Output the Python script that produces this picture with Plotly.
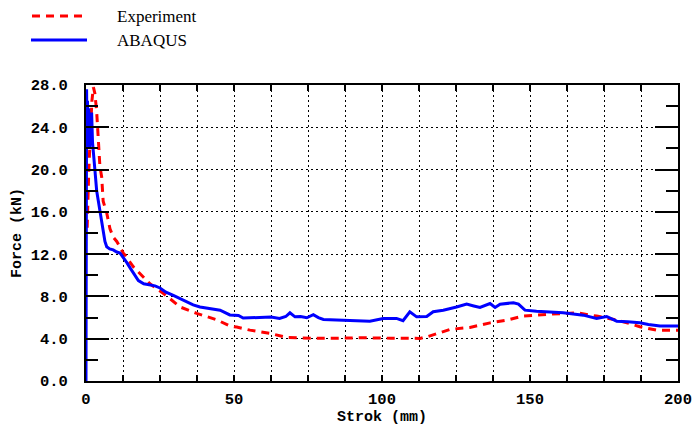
import plotly.graph_objects as go

# ---- data ----
abaqus_x = [0, 0.05, 0.2, 0.35, 0.5, 0.7, 0.9, 1.2, 1.5, 1.9, 2.2, 2.5, 3.0, 3.6, 4.2, 4.7, 5.3, 5.8,
            6.4, 7.0, 8.0, 9.2, 10.4, 11.5, 12.6, 13.8, 14.9, 16.3, 17.7, 19.5, 21.6, 23.3, 25.0, 27.0,
            29.5, 31.8, 34.0, 36.2, 38.5, 42.0, 45.3, 48.6, 51.5, 53.1, 56.0, 59.9, 62.5, 65.4, 67.5,
            68.9, 70.6, 72.5, 74.6, 76.8, 78.5, 80.2, 83.5, 86.9, 91.0, 95.9, 100.4, 104.9, 107.1,
            109.4, 111.7, 115.1, 117.3, 120.7, 125.2, 128.6, 131.0, 133.1, 136.5, 138.2, 139.9, 142.0,
            144.4, 146.1, 148.3, 152.2, 156.0, 161.2, 168.0, 172.5, 175.9, 179.3, 183.0, 187.1, 190.0,
            193.9, 197.0, 200.0]
abaqus_y = [0, 24, 27.6, 23, 26.5, 22.5, 25.8, 22, 24, 25.4, 22.6, 21.8, 20, 18, 17, 15.8, 14.8, 13.9,
            13.2, 12.7, 12.5, 12.4, 12.2, 12.1, 11.7, 11.2, 10.7, 10.1, 9.5, 9.2, 9.05, 9.0, 8.8, 8.4,
            8.1, 7.8, 7.5, 7.2, 7.0, 6.85, 6.7, 6.25, 6.2, 5.95, 6.0, 6.07, 6.05, 5.92, 6.1,
            6.45, 6.07, 6.1, 5.98, 6.27, 6.0, 5.82, 5.78, 5.7, 5.68, 5.66, 5.92, 5.92, 5.7,
            6.55, 6.07, 6.1, 6.55, 6.7, 7.0, 7.27, 7.1, 6.96, 7.33, 6.96, 7.27, 7.3,
            7.4, 7.27, 6.7, 6.6, 6.55, 6.45, 6.23, 5.92, 6.1, 5.66, 5.6, 5.51, 5.35,
            5.2, 5.2, 5.2]

exp_x = [0.4, 0.6, 0.9, 1.4, 2.0, 2.5, 3.0, 3.6, 4.2, 4.7, 5.3, 5.8, 7.0, 8.1, 9.2, 10.4, 12.6, 13.2,
         16.0, 17.1, 21.6, 26.1, 31.8, 37.4, 44.1, 48.6, 50.9, 55.4, 62.2, 67.8, 76.8, 85.0, 93.7,
         103.0, 112.8, 115.5, 118.5, 123.0, 129.7, 136.5, 142.2, 147.7, 155.6, 165.8, 172.5, 179.3,
         184.0, 187.1, 192.7, 200.0]
exp_y = [14.5, 17, 19.5, 23, 26.5, 27.8, 27.2, 25.5, 23, 20.3, 19.3, 17.0, 15.9, 14.4, 13.6, 13.2, 12.1, 11.9,
         10.8, 10.5, 9.2, 8.3, 7.0, 6.4, 5.8, 5.2, 5.1, 4.81, 4.5, 4.12, 4.03, 4.05, 4.09,
         4.05, 4.03, 4.2, 4.5, 4.88, 5.07, 5.5, 5.76, 6.14, 6.3, 6.45, 6.14, 5.76,
         5.4, 5.13, 4.81, 4.81]

x_tick_vals = [i * 12.5 for i in range(17)]
x_tick_text = ["0", "", "", "", "50", "", "", "", "100", "", "", "", "150", "", "", "", "200"]

RED = "#ff0000"
BLUE = "#0000ff"
MONO = "Liberation Mono, Courier New, monospace"
SERIF = "Liberation Serif, Times New Roman, serif"

fig = go.Figure()
fig.add_trace(go.Scatter(x=exp_x, y=exp_y, mode="lines", name="Experiment",
                         line=dict(color=RED, width=3, dash="8px,6px")))
fig.add_trace(go.Scatter(x=abaqus_x, y=abaqus_y, mode="lines", name="ABAQUS",
                         line=dict(color=BLUE, width=3)))

W, H = 695, 426
ml, mr, mt, mb = 86, 17, 85, 45
pw, ph = W - ml - mr, H - mt - mb

def px_to_paper(px, py):
    return (px - ml) / pw, (H - mb - py) / ph

shapes = []
annotations = []
# legend drawn manually (long line samples)
for (x0, x1, yy, col, dash, label) in [(32, 82, 16, RED, "8px,6px", "Experiment"),
                                       (31, 87, 40, BLUE, "solid", "ABAQUS")]:
    a0, b0 = px_to_paper(x0, yy)
    a1, _ = px_to_paper(x1, yy)
    shapes.append(dict(type="line", xref="paper", yref="paper", x0=a0, x1=a1, y0=b0, y1=b0,
                       line=dict(color=col, width=3, dash=dash)))
    tx, _ = px_to_paper(115, yy)
    annotations.append(dict(xref="paper", yref="paper", x=tx, y=b0, text=label, showarrow=False,
                            xanchor="left", yanchor="middle",
                            font=dict(family=SERIF, size=17, color="black")))

fig.update_layout(
    width=W, height=H,
    margin=dict(l=ml, r=mr, t=mt, b=mb),
    paper_bgcolor="white", plot_bgcolor="white",
    showlegend=False,
    shapes=shapes, annotations=annotations,
    font=dict(family=MONO, size=14, color="black"),
)

fig.update_xaxes(
    range=[0, 200], tickmode="array", tickvals=x_tick_vals, ticktext=x_tick_text,
    ticks="inside", ticklen=6, tickwidth=1.5, tickcolor="black",
    showgrid=True, gridcolor="black", gridwidth=1.2, griddash="2px,3px",
    showline=True, linecolor="black", linewidth=2, mirror="ticks",
    zeroline=False, ticklabelstandoff=2, automargin=False,
    tickfont=dict(family=MONO, size=15.5, color="black", weight="bold"),
    title=dict(text="Strok (mm)", standoff=0,
               font=dict(family=MONO, size=15, color="black", weight="bold")),
)
fig.update_yaxes(
    range=[0, 28], tickmode="linear", tick0=0, dtick=4, tickformat=".1f",
    ticks="inside", ticklen=23, tickwidth=1.5, tickcolor="black",
    minor=dict(dtick=2, ticks="inside", ticklen=12, tickwidth=1.5, tickcolor="black", showgrid=False),
    showgrid=True, gridcolor="black", gridwidth=1.2, griddash="2px,3px",
    showline=True, linecolor="black", linewidth=2, mirror="ticks",
    zeroline=False, ticklabelstandoff=13, automargin=False,
    tickfont=dict(family=MONO, size=15.5, color="black", weight="bold"),
    title=dict(text="Force (kN)", standoff=5,
               font=dict(family=MONO, size=15, color="black", weight="bold")),
)

fig.write_html("out.html")
